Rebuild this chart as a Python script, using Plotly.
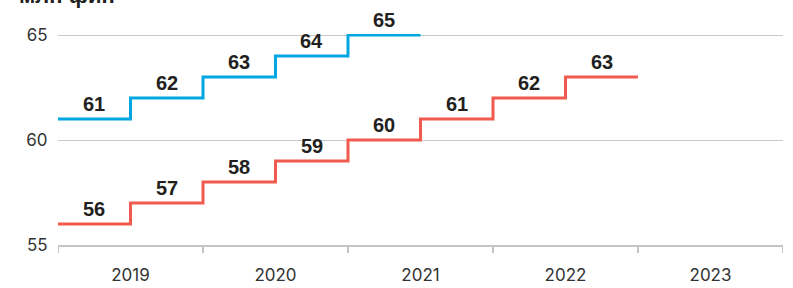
import plotly.graph_objects as go

years = ["2019", "2020", "2021", "2022", "2023"]
blue_values = [61, 62, 63, 64, 65]
red_values = [56, 57, 58, 59, 60, 61, 62, 63]
y_ticks = [55, 60, 65]
title_text = "млн фин"

BLUE = "#00a7e1"
RED = "#f15a4e"
STEP = 0.5  # each value covers half a year

def step_xy(vals):
    xs = [i * STEP for i in range(len(vals))] + [len(vals) * STEP]
    ys = list(vals) + [vals[-1]]
    return xs, ys

def mid_x(vals):
    return [i * STEP + STEP / 2 for i in range(len(vals))]

fig = go.Figure()
for vals, col in [(blue_values, BLUE), (red_values, RED)]:
    xs, ys = step_xy(vals)
    fig.add_trace(go.Scatter(x=xs, y=ys, mode="lines", line=dict(color=col, width=3, shape="hv"),
                             hoverinfo="skip", showlegend=False))
    for x, v in zip(mid_x(vals), vals):
        fig.add_annotation(x=x, y=v, text=f"<b>{v}</b>", showarrow=False, yanchor="bottom",
                           yshift=2, font=dict(family="Liberation Sans, Arial", size=20, color="#231f20"))

# category boundary ticks on the x axis
for i in range(len(years) + 1):
    fig.add_shape(type="line", xref="x", yref="paper", x0=i, x1=i, y0=0, y1=-0.038,
                  line=dict(color="#c4c4c4", width=2))

fig.add_annotation(xref="paper", yref="paper", x=-0.057, y=1.112, xanchor="left", yanchor="bottom",
                   text=f"<b>{title_text}</b>", showarrow=False,
                   font=dict(family="Liberation Sans, Arial", size=22, color="#231f20"))

fig.update_layout(
    width=793, height=288,
    margin=dict(l=58, r=10, t=34, b=43, autoexpand=False),
    paper_bgcolor="white", plot_bgcolor="white",
    xaxis=dict(range=[0, len(years)], tickvals=[i + 0.5 for i in range(len(years))], ticktext=years,
               showgrid=False, zeroline=False, showline=True, linecolor="#c4c4c4", linewidth=2,
               ticks="outside", ticklen=14, tickcolor="rgba(0,0,0,0)", automargin=False,
               tickfont=dict(family="Inter, Lato, sans-serif", size=17, color="#333333")),
    yaxis=dict(range=[55, 65.048], tickvals=y_ticks, showgrid=True, gridcolor="#c8c8c8", gridwidth=1,
               zeroline=False, showline=False, ticks="outside", ticklen=6, tickcolor="rgba(0,0,0,0)",
               automargin=False,
               tickfont=dict(family="Inter, Lato, sans-serif", size=17, color="#333333")),
)

fig.write_html("out.html", config={"displayModeBar": False},
               post_script="document.body.style.margin='0';")
